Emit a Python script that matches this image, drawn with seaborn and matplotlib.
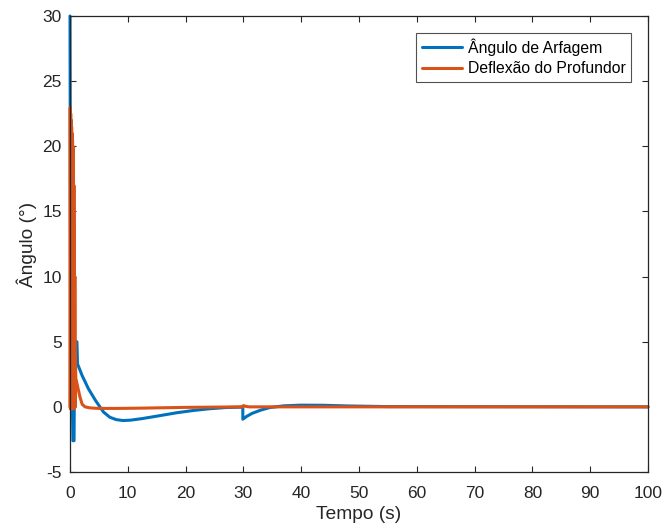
import matplotlib
matplotlib.use("Agg")
import matplotlib.pyplot as plt
import seaborn as sns
import numpy as np
import pandas as pd

# --- data ---
t_pitch = [0, 0.1, 0.5, 0.7, 0.8, 1.2, 1.3, 2.1, 3.2, 4.4, 5.8, 6.9, 8.0, 9.2,
           10.5, 12.5, 15.6, 18.5, 21.3, 24.0, 27.0, 29.9, 29.9, 30.5, 31.5,
           33.0, 34.6, 37, 40, 44, 48, 55, 100]
pitch = [30, 10, -2.6, -2.6, 5.0, 5.0, 3.3, 2.4, 1.38, 0.5, -0.4, -0.8, -0.98,
         -1.05, -1.02, -0.9, -0.67, -0.45, -0.28, -0.15, -0.05, -0.02, -0.95,
         -0.75, -0.5, -0.25, -0.05, 0.08, 0.13, 0.12, 0.07, 0.02, 0]

t_elev = [0, 0.04, 0.08, 0.12, 0.16, 0.2, 0.24, 0.28, 0.32, 0.36, 0.4, 0.44,
          0.48, 0.52, 0.56, 0.6, 0.64, 0.68, 0.72, 0.76, 0.8, 0.84, 0.88,
          0.92, 1.0, 1.3, 1.7, 2.1, 2.6, 3.5, 5, 8, 12, 16, 20, 25, 29.9, 30,
          30.3, 31, 33, 36, 40, 50, 100]
elev = [0, 23, -0.15, 22.5, -0.15, 22, -0.15, 21.5, -0.15, 21, -0.15, 20.5,
        -0.1, 20, -0.1, 19, -0.1, 17, -0.1, 14, 0, 10, 0, 4, 2.2, 1.6, 0.8,
        0.2, 0, -0.08, -0.12, -0.12, -0.1, -0.07, -0.04, -0.02, 0, 0.1, 0.05,
        0.0, 0, 0, 0, 0, 0]

labels = ["Ângulo de Arfagem", "Deflexão do Profundor"]
xticks = [0, 10, 20, 30, 40, 50, 60, 70, 80, 90, 100]
yticks = [-5, 0, 5, 10, 15, 20, 25, 30]

sns.set_style("white")
plt.rcParams['font.family'] = ['Liberation Sans', 'DejaVu Sans']

fig = plt.figure(figsize=(6.64, 5.32), dpi=100)
ax = fig.add_axes([70/664, 1-472/532, 578/664, 456/532])

grey = "#262626"
sns.lineplot(x=t_pitch, y=pitch, ax=ax, sort=False, estimator=None,
             color="#0072BD", linewidth=2.2, label=labels[0], clip_on=False)
sns.lineplot(x=t_elev, y=elev, ax=ax, sort=False, estimator=None,
             color="#D95319", linewidth=2.2, label=labels[1], clip_on=False)

ax.set_xlim(0, 100)
ax.set_ylim(-5, 30)
ax.set_xticks(xticks)
ax.set_yticks(yticks)
ax.set_xticklabels([str(v) for v in xticks])
ax.set_yticklabels([str(v) for v in yticks])
ax.tick_params(direction="in", length=4, width=0.8, colors=grey,
               labelcolor=grey, labelsize=12.5, top=True, right=True,
               bottom=True, left=True)
ax.tick_params(axis="x", pad=10)
ax.tick_params(axis="y", pad=6)
for s in ax.spines.values():
    s.set_color(grey)
    s.set_linewidth(0.9)
ax.set_xlabel("Tempo (s)", fontsize=13.75, color=grey, labelpad=4)
ax.set_ylabel("Ângulo (°)", fontsize=13.75, color=grey, labelpad=4)

leg = ax.legend(loc="upper right", bbox_to_anchor=((631-70)/578, (472-33)/456),
                borderaxespad=0, frameon=True, fancybox=False, fontsize=11.3,
                handlelength=2.6, handletextpad=0.33, borderpad=0.35,
                labelspacing=0.32)
leg.get_frame().set_edgecolor(grey)
leg.get_frame().set_linewidth(0.8)
for txt in leg.get_texts():
    txt.set_color("#000000")

fig.savefig("out.png", dpi=100)
